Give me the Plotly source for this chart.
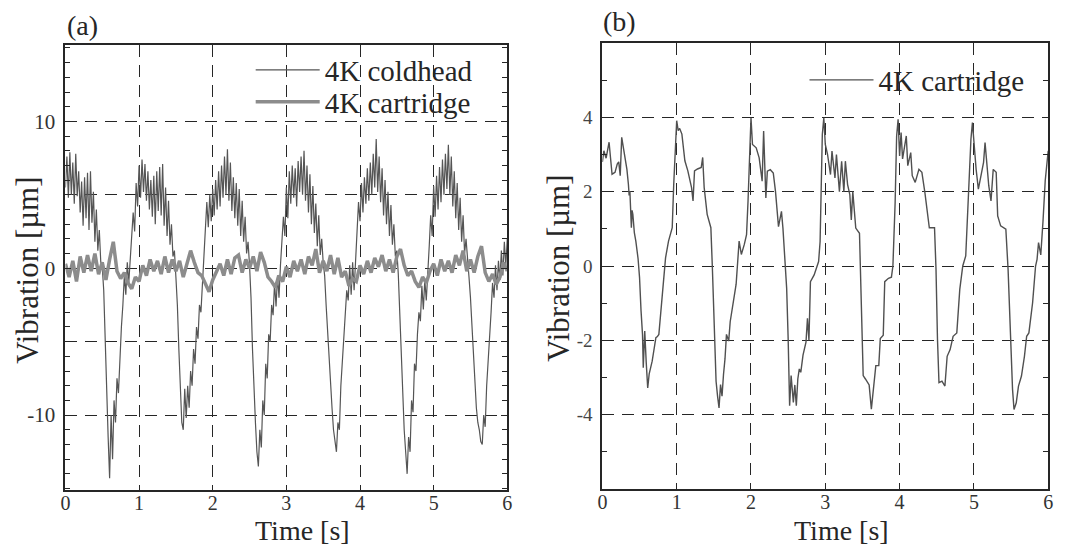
import plotly.graph_objects as go

# ---------------- data: panel (a) ----------------
dt_cold = 0.02
coldhead = [
    5.5, 7.6, 4.8, 7.9, 5.0, 7.2, 4.4, 7.8, 4.9, 6.6,
    3.8, 5.9, 2.9, 6.2, 3.4, 6.5, 2.6, 6.6, 3.1, 5.2,
    1.8, 4.0, 1.2, 2.6, 0.4, 0.1, -1.5, -5.0, -9.5, -11.5,
    -14.3, -10.0, -13.0, -9.0, -10.5, -7.5, -8.5, -5.5, -4.0, -2.5,
    -0.5, -1.8, 0.4, -1.0, 0.6, 1.5, 3.8, 2.5, 5.8, 4.2,
    7.0, 4.8, 7.4, 5.2, 7.1, 4.6, 6.6, 4.0, 6.0, 3.5,
    6.3, 3.0, 6.6, 3.9, 6.9, 3.6, 7.1, 2.9, 5.5, 2.2,
    4.6, 1.6, 3.0, 0.8, 1.2, -0.6, -2.5, -5.5, -7.5, -10.5,
    -11.0, -8.2, -10.2, -8.0, -9.5, -7.0, -8.0, -5.5, -6.5, -4.0,
    -4.8, -2.5, -3.0, -1.2, 0.3, 2.0, 4.5, 2.8, 5.0, 3.2,
    5.4, 3.6, 6.0, 4.0, 6.6, 4.2, 7.0, 4.8, 7.6, 5.0,
    8.1, 4.6, 7.2, 3.9, 6.2, 3.4, 5.8, 2.9, 5.4, 2.2,
    4.6, 1.8, 3.5, 1.0, 1.8, 0.2, -2.0, -5.5, -8.5, -10.5,
    -12.5, -13.5, -11.0, -12.2, -9.0, -10.0, -6.5, -7.5, -4.5, -5.0,
    -2.5, -3.2, -1.0, -2.6, -0.5, -2.0, 0.2, 1.8, 3.5, 2.2,
    5.5, 3.4, 6.6, 4.4, 7.0, 4.8, 6.8, 4.2, 7.3, 5.2,
    7.6, 5.0, 8.0, 4.6, 7.0, 3.8, 6.4, 3.0, 5.6, 2.4,
    4.4, 1.5, 3.6, 0.9, 2.0, 0.4, -0.5, -2.5, -4.5, -6.5,
    -8.5, -9.5, -11.0, -11.8, -12.5, -10.5, -11.0, -8.0, -6.5, -5.0,
    -3.0, -1.5, -2.2, 0.2, -1.8, 0.4, -1.5, 0.8, 2.5, 4.5,
    3.2, 5.8, 3.8, 6.2, 4.4, 6.8, 4.6, 7.2, 5.0, 7.8,
    5.5, 8.8, 5.2, 7.6, 4.5, 6.8, 3.6, 6.0, 3.0, 5.2,
    2.2, 4.3, 1.6, 3.0, 0.8, 1.2, -0.4, -3.0, -6.5, -9.5,
    -11.0, -12.5, -14.0, -11.5, -12.5, -9.0, -9.8, -6.5, -7.0, -4.5,
    -3.0, -3.6, -1.2, -2.8, -0.8, -2.2, 0.2, 1.5, 3.6, 2.2,
    5.6, 3.5, 6.3, 4.0, 6.9, 4.5, 7.4, 5.0, 7.8, 5.4,
    8.4, 5.0, 7.6, 4.2, 6.6, 3.4, 5.8, 2.6, 4.8, 1.8,
    3.6, 1.0, 2.0, 0.3, -0.6, -2.0, -4.0, -6.0, -8.0, -9.5,
    -10.5, -11.0, -11.8, -12.0, -10.0, -10.8, -8.0, -6.5, -4.5, -3.0,
    -1.0, -2.0, 0.2, -1.5, 0.5, -0.8, 1.2, -0.5, 1.8, 0.2,
    2.0,
]
time_cold = [round(i * dt_cold, 3) for i in range(len(coldhead))]

dt_cart = 0.05
cartridge_a = [
    0.3, -0.6, 0.5, -0.9, 0.8, -0.3, 0.9, -0.2, 1.0, -0.4,
    0.4, -0.8, 0.6, 1.8, -0.2, -0.7, -0.3, -1.0, -1.4, -0.6,
    -0.9, 0.2, -0.5, 0.6, -0.2, 0.5, -0.4, 0.8, -0.3, 0.6,
    -0.2, 0.5, -0.6, 0.3, 1.2, 0.4, -0.3, -0.5, -1.1, -1.6,
    -0.8, -0.3, 0.3, -0.5, 0.6, -0.4, 0.7, 0.9, -0.3, 0.6,
    0.0, 0.8, -0.2, 1.1, 0.4, -0.6, -0.9, -1.3, -0.5, -0.9,
    0.1, -0.6, 0.5, -0.2, 0.6, -0.4, 0.8, 0.2, 1.3, -0.3,
    0.5, -0.2, 0.9, -0.4, 0.7, -0.6, -0.2, -1.2, -0.7, -0.9,
    0.2, -0.4, 0.5, -0.3, 0.7, 0.1, 0.9, -0.2, 0.6, -0.3,
    0.8, 1.3, 0.2, -0.5, -0.2, -0.9, -1.3, -0.6, -1.0, -0.2,
    0.3, -0.5, 0.6, -0.2, 0.5, -0.3, 0.9, 0.2, 1.2, -0.2,
    0.6, -0.3, 0.8, 1.5, -0.3, -0.9, -0.4, -1.1, -0.6, 0.4,
    -0.2,
]
time_cart = [round(i * dt_cart, 3) for i in range(len(cartridge_a))]

# ---------------- data: panel (b) ----------------
time_b = [
    0.00, 0.02, 0.05, 0.09, 0.11, 0.13, 0.17, 0.20, 0.22, 0.24,
    0.26, 0.28, 0.30, 0.33, 0.35, 0.36, 0.37, 0.38, 0.39, 0.40,
    0.41, 0.43, 0.45, 0.48, 0.50, 0.52, 0.54, 0.55, 0.57, 0.59,
    0.61, 0.63, 0.67, 0.72, 0.74, 0.76, 0.80, 0.85, 0.89, 0.92,
    0.94, 0.96, 0.98, 1.00, 1.02, 1.04, 1.07, 1.09, 1.11, 1.15,
    1.18, 1.20, 1.22, 1.24, 1.28, 1.33, 1.35, 1.37, 1.41, 1.46,
    1.48, 1.51, 1.53, 1.55, 1.57, 1.59, 1.61, 1.63, 1.65, 1.67,
    1.70, 1.72, 1.76, 1.80, 1.84, 1.87, 1.91,
    1.94, 1.96, 1.98, 2.00, 2.02, 2.07, 2.11, 2.15, 2.17, 2.20,
    2.22, 2.26, 2.30, 2.33, 2.37, 2.41, 2.43, 2.48, 2.50, 2.52,
    2.54, 2.57, 2.59, 2.61, 2.63, 2.65, 2.67, 2.70, 2.74, 2.76,
    2.78, 2.80, 2.85, 2.89, 2.91, 2.93, 2.96, 2.98, 3.00, 3.03,
    3.07, 3.09, 3.13, 3.15, 3.19, 3.22, 3.25, 3.27, 3.30, 3.33,
    3.35, 3.37, 3.41, 3.46, 3.48, 3.51, 3.54, 3.59, 3.62, 3.65,
    3.68, 3.72, 3.74, 3.78, 3.80, 3.85, 3.89,
    3.91, 3.94, 3.96, 3.98, 4.00, 4.02, 4.04, 4.09, 4.11, 4.15,
    4.17, 4.21, 4.26, 4.30, 4.34, 4.36, 4.40, 4.47, 4.49, 4.51,
    4.53, 4.57, 4.61, 4.64, 4.68, 4.72, 4.77, 4.81, 4.85, 4.89,
    4.94, 4.96, 4.98, 5.00, 5.03, 5.06, 5.09, 5.13, 5.15, 5.18,
    5.20, 5.23, 5.26, 5.30, 5.32, 5.36, 5.43, 5.46, 5.49, 5.52,
    5.54, 5.57, 5.60, 5.64, 5.68, 5.71, 5.74, 5.79, 5.83, 5.85,
    5.87, 5.90, 5.93, 5.96, 6.00,
]
vib_b = [
    2.8, 3.1, 2.9, 3.33, 2.9, 2.47, 2.52, 2.74, 2.8, 2.43,
    3.46, 3.2, 3.01, 2.6, 2.2, 1.9, 2.02, 1.4, 1.03, 1.5,
    1.39, 0.9, 0.67, 0.2, -0.31, -1.2, -1.84, -2.74, -1.75, -2.6,
    -3.28, -2.9, -2.56, -1.93, -1.9, -1.84, -0.94, 0.22, 0.67, 0.9,
    1.03, 2.2, 2.9, 3.91, 3.64, 3.7, 3.55, 3.2, 2.83, 2.56,
    2.3, 2.11, 1.75, 2.56, 2.61, 2.65, 2.92, 2.11, 1.39, 1.03,
    -0.04, -1.84, -3.1, -3.5, -3.82, -3.19, -3.5, -2.92, -2.5, -1.84,
    -2.02, -1.5, -0.94, -0.49, 0.67, 0.31, 0.58,
    0.84, 1.74, 3.09, 3.99, 3.27, 3.18, 2.91, 2.28, 3.63, 1.83,
    2.55, 2.59, 2.5, 2.0, 1.06, 1.47, 1.02, -0.6, -1.95, -3.76,
    -2.95, -3.67, -3.2, -3.76, -3.04, -2.77, -2.86, -2.4, -2.05, -1.41,
    -2.0, -0.42, -0.24, 0.03, 0.12, 0.66, 3.54, 3.99, 3.27, 3.0,
    2.46, 3.09, 2.37, 3.0, 2.0, 2.82, 2.0, 2.82, 2.19, 1.92,
    1.24, 2.0, 1.02, 0.88, -0.96, -2.95, -3.04, -3.2, -3.85, -3.2,
    -2.68, -2.68, -1.95, -1.86, -0.42, -0.33, -0.3,
    0.0, 1.71, 3.5, 3.95, 2.96, 3.59, 2.88, 3.5, 2.7, 3.05,
    2.43, 2.25, 2.6, 2.52, 1.98, 1.62, 1.03, 1.03, -0.09, -1.98,
    -3.14, -3.1, -3.23, -2.43, -2.25, -1.89, -1.8, -0.63, 0.0, 0.27,
    2.6, 3.41, 3.86, 3.23, 2.6, 2.07, 2.43, 2.79, 3.32, 2.6,
    2.16, 1.75, 2.6, 2.52, 1.35, 1.08, 0.99, -0.09, -1.89, -3.32,
    -3.86, -3.68, -3.23, -2.96, -2.43, -1.89, -1.8, -0.99, 0.0, 0.18,
    0.63, 0.3, 1.2, 2.3, 3.1,
]
assert len(time_b) == len(vib_b), (len(time_b), len(vib_b))

x_ticks = [0, 1, 2, 3, 4, 5, 6]
y_ticks_a = [-10, -5, 0, 5, 10]
y_text_a = ["-10", "", "0", "", "10"]
y_ticks_b = [-4, -2, 0, 2, 4]
y_text_b = ["-4", "-2", "0", "2", "4"]

# ---------------- figure ----------------
W, H = 1075, 547
SERIF = "Liberation Serif"
INK = "#262626"

fig = go.Figure()
fig.add_trace(go.Scatter(
    x=time_cold, y=coldhead, mode="lines", name="4K coldhead",
    line=dict(color="#555555", width=1.2), xaxis="x", yaxis="y", legend="legend"))
fig.add_trace(go.Scatter(
    x=time_cart, y=cartridge_a, mode="lines", name="4K cartridge",
    line=dict(color="#8c8c8c", width=3.5), xaxis="x", yaxis="y", legend="legend3"))
fig.add_trace(go.Scatter(
    x=time_b, y=vib_b, mode="lines", name="4K cartridge",
    line=dict(color="#505050", width=1.4), xaxis="x2", yaxis="y2", legend="legend2"))


def px_x(p):
    return p / W


def px_y(p):
    return (H - p) / H


common = dict(showline=True, linecolor=INK, linewidth=2, mirror=True,
              showgrid=True, gridcolor=INK, gridwidth=1.2, griddash="12px,8px",
              zeroline=False, tickfont=dict(family=SERIF, size=20, color="#333"))

leg_font = dict(family=SERIF, size=29, color=INK)


def leg(xpx, ypx):
    return dict(x=px_x(xpx), xanchor="left", y=px_y(ypx), yanchor="middle",
                font=leg_font, bgcolor="rgba(0,0,0,0)", itemwidth=64,
                borderwidth=0)


xa = dict(common, range=[0, 6], tickvals=x_ticks, ticks="", ticklabelstandoff=-6)
fig.update_layout(
    width=W, height=H,
    margin=dict(l=0, r=0, t=0, b=0),
    paper_bgcolor="white", plot_bgcolor="white",
    xaxis=dict(xa, domain=[px_x(61), px_x(507)], anchor="y"),
    yaxis=dict(common, domain=[px_y(490), px_y(45)], anchor="x", range=[-15.1, 15.2],
               tickvals=y_ticks_a, ticktext=y_text_a, ticks="inside", ticklen=6,
               tickcolor=INK, mirror="allticks", ticklabelstandoff=4,
               tickfont=dict(family=SERIF, size=21, color="#333"),
               minor=dict(dtick=1, tick0=0, ticks="inside", ticklen=5,
                          tickcolor=INK, showgrid=False)),
    xaxis2=dict(xa, domain=[px_x(603), px_x(1053)], anchor="y2"),
    yaxis2=dict(common, domain=[px_y(489), px_y(43)], anchor="x2", range=[-6, 6],
                tickvals=y_ticks_b, ticktext=y_text_b, ticks="inside", ticklen=6,
                tickcolor=INK, mirror="allticks", ticklabelstandoff=4,
                tickfont=dict(family=SERIF, size=19, color="#444"),
                minor=dict(dtick=1, tick0=0, ticks="inside", ticklen=5,
                           tickcolor=INK, showgrid=False)),
    legend=leg(248, 70),
    legend3=leg(248, 102),
    legend2=leg(807, 80),
    showlegend=True,
)

ann_font = dict(family=SERIF, size=28, color=INK)
title_font = dict(family=SERIF, size=28, color=INK)
fig.add_annotation(text="(a)", x=px_x(61), y=px_y(25), xref="paper", yref="paper",
                   xanchor="left", yanchor="middle", showarrow=False, font=ann_font)
fig.add_annotation(text="(b)", x=px_x(602), y=px_y(22), xref="paper", yref="paper",
                   xanchor="left", yanchor="middle", showarrow=False, font=ann_font)
fig.add_annotation(text="Vibration [µm]", x=px_x(22), y=px_y(270), xref="paper", yref="paper",
                   textangle=-90, xanchor="center", yanchor="middle", showarrow=False,
                   font=dict(family=SERIF, size=31, color=INK))
fig.add_annotation(text="Vibration [µm]", x=px_x(558), y=px_y(268), xref="paper", yref="paper",
                   textangle=-90, xanchor="center", yanchor="middle", showarrow=False,
                   font=dict(family=SERIF, size=31, color=INK))
fig.add_annotation(text="Time [s]", x=px_x(300), y=px_y(530), xref="paper", yref="paper",
                   xanchor="center", yanchor="middle", showarrow=False, font=title_font)
fig.add_annotation(text="Time [s]", x=px_x(844), y=px_y(530), xref="paper", yref="paper",
                   xanchor="center", yanchor="middle", showarrow=False, font=title_font)

fig.write_html("out.html", config={"displayModeBar": False},
               post_script="document.body.style.margin='0';document.body.style.padding='0';")
